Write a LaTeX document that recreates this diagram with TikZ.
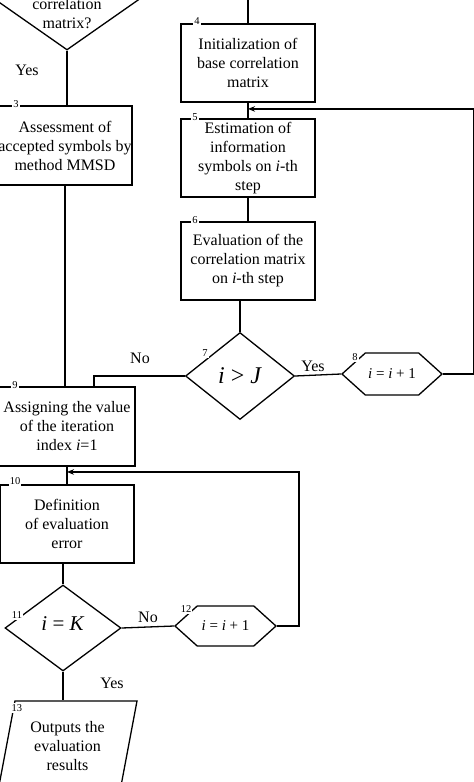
\documentclass[tikz,border=0pt]{standalone}
\usepackage{fontspec}
\setmainfont{Liberation Serif}
\usetikzlibrary{shapes.geometric,shapes.symbols,arrows.meta,calc}
\begin{document}
\begin{tikzpicture}[x=1pt,y=-1pt,line width=1.3pt,
  every node/.style={font=\fontsize{16}{19}\selectfont},
  proc/.style={draw,rectangle,align=center,inner sep=0pt,minimum width=134pt,minimum height=78pt},
  dec/.style={draw,diamond,inner sep=0pt},
  hexa/.style={draw,signal,signal to=east and west,signal pointer angle=84,inner sep=0pt,minimum width=100pt,minimum height=42pt,font=\fontsize{15}{18}\selectfont},
  num/.style={font=\fontsize{10.5}{10.5}\selectfont,fill=white,inner sep=1.2pt},
  arr/.style={-{Stealth[length=7pt,width=5.5pt]}},
]
\useasboundingbox (0,0) rectangle (474,782);
\clip (0,0) rectangle (474,782);

% shapes
\node[dec,minimum width=280pt,minimum height=196pt] (d2) at (67,-48) {};
\node[align=center] (d2t) at (67,14) {correlation\\matrix?};
\node[proc,minimum width=134pt,minimum height=79pt] (b3) at (65,145.5) {Assessment of\\accepted symbols by\\method MMSD};
\node[proc] (b4) at (248,63) {Initialization of\\base correlation\\matrix};
\node[proc] (b5) at (248,158) {Estimation of\\information\\symbols on \textit{i}-th\\step};
\node[proc] (b6) at (248,261) {Evaluation of the\\correlation matrix\\on \textit{i}-th step};
\node[dec,minimum width=109pt,minimum height=87pt,font=\fontsize{24}{24}\selectfont] (d7) at (240,376) {\textit{i} > \textit{J}};
\node[hexa] (h8) at (392,374) {\textit{i} = \textit{i} + 1};
\node[proc,minimum width=136pt,minimum height=79pt] (b9) at (67,426.5) {Assigning the value\\of the iteration\\index \textit{i}=1};
\node[proc] (b10) at (67,524) {Definition\\of evaluation\\error};
\node[dec,minimum width=116pt,minimum height=86pt,font=\fontsize{21}{21}\selectfont] (d11) at (63,628) {\raisebox{8pt}{\textit{i} = \textit{K}}};
\node[hexa,minimum width=101pt,minimum height=40pt] (h12) at (225.5,626) {\textit{i} = \textit{i} + 1};
\node[draw,trapezium,trapezium left angle=71,trapezium right angle=109,trapezium stretches body,minimum width=139pt,minimum height=90pt,inner sep=0pt,align=center] (p13) at (67.5,746) {Outputs the\\evaluation\\results};

% connectors
\coordinate (t4) at (248,-5);
\draw (t4) -- (b4.north);
\draw (d2.south) -- (d2.south |- b3.north);
\draw (b3.south) -- (b3.south |- b9.north);
\draw (b4.south) -- (b5.north);
\draw (b5.south) -- (b6.north);
\draw (d7.north |- b6.south) -- (d7.north);
\draw (d7.west) -| ([xshift=27pt]b9.north);
\draw (d7.east) -- (h8.west);
\coordinate (m45) at ($(b4.south)!0.4!(b5.north)$);
\draw[arr] (h8.east) -- ++(31,0) |- (m45);
\draw (b9.south) -- (b10.north);
\draw (d11.north |- b10.south) -- (d11.north);
\draw (d11.east) -- (h12.west);
\coordinate (m910) at ($(b9.south)!0.3!(b10.north)$);
\draw[arr] (h12.east) -- ++(22,0) |- (m910);
\draw (d11.south) -- (d11.south |- p13.north);

% connector labels
\node (yes2) at (27,70) {Yes};
\node (no7) at (140,358) {No};
\node (yes7) at (313,366) {Yes};
\node (no11) at (148,617) {No};
\node (yes11) at (112,683) {Yes};

% number labels
\node[num] (l3) at (16,104) {3};
\node[num] (l4) at (197,21) {4};
\node[num] (l5) at (195,117) {5};
\node[num] (l6) at (195,220) {6};
\node[num] (l7) at (205,353) {7};
\node[num] (l8) at (355,357) {8};
\node[num] (l9) at (15,385) {9};
\node[num] (l10) at (15,481) {10};
\node[num] (l11) at (17,615) {11};
\node[num] (l12) at (186,609) {12};
\node[num] (l13) at (17,708) {13};
\end{tikzpicture}
\end{document}
